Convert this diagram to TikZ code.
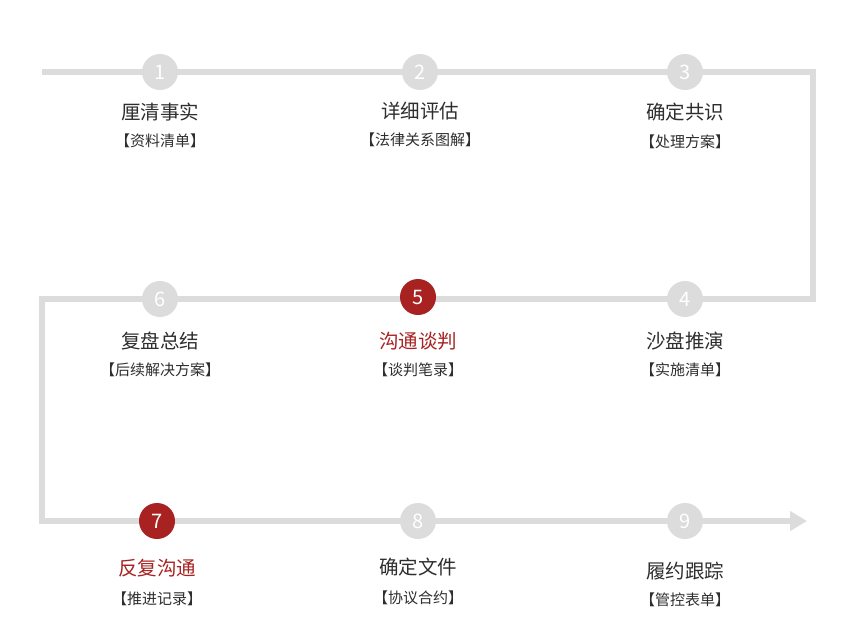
\documentclass[tikz,border=0pt]{standalone}
\usepackage{fontspec}
\setmainfont{Noto Sans CJK SC}
\usetikzlibrary{arrows.meta}
\definecolor{linegray}{HTML}{DCDCDC}
\definecolor{stepred}{HTML}{A82222}
\definecolor{txtgray}{HTML}{2E2E2E}
\begin{document}
\begin{tikzpicture}[x=1pt,y=-1pt,
  dot/.style={circle,fill=linegray,minimum size=36pt,inner sep=0pt,text=white,font=\fontsize{20pt}{20pt}\selectfont},
  reddot/.style={dot,fill=stepred},
  title/.style={text=txtgray,font=\fontsize{19.5pt}{19.5pt}\selectfont,inner sep=0pt},
  redtitle/.style={title,text=stepred},
  sub/.style={text=txtgray,font=\fontsize{15pt}{15pt}\selectfont,inner sep=0pt},
  track/.style={draw=linegray,line width=6.5pt,line join=miter}
]
\fill[white] (0,0) rectangle (857,641);
\useasboundingbox (0,0) rectangle (857,641);
% track
\coordinate (s) at (42,72);
\coordinate (k1) at (813,72);
\coordinate (k2) at (813,299);
\coordinate (k3) at (42,299);
\coordinate (k4) at (42,521);
\coordinate (e) at (807,521);
\draw[track,-{Triangle[length=17pt,width=19pt]}] (s) -- (k1) -- (k2) -- (k3) -- (k4) -- (e);
% circles
\node[dot] (c1) at (160,72) {1};
\node[dot] (c2) at (420,72) {2};
\node[dot] (c3) at (685,72) {3};
\node[dot] (c4) at (685,299) {4};
\node[reddot] (c5) at (418,297) {5};
\node[dot] (c6) at (160,299) {6};
\node[reddot] (c7) at (157,521) {7};
\node[dot] (c8) at (418,521) {8};
\node[dot] (c9) at (685,521) {9};
% row 1
\node[title] (t1) at (160,112) {厘清事实};
\node[sub] (s1) at (160,141) {【资料清单】};
\node[title] (t2) at (420,111) {详细评估};
\node[sub] (s2) at (420,140) {【法律关系图解】};
\node[title] (t3) at (685,112) {确定共识};
\node[sub] (s3) at (685,142) {【处理方案】};
% row 2
\node[title] (t6) at (160,341) {复盘总结};
\node[sub] (s6) at (160,370) {【后续解决方案】};
\node[redtitle] (t5) at (418,341) {沟通谈判};
\node[sub] (s5) at (418,370) {【谈判笔录】};
\node[title] (t4) at (685,341) {沙盘推演};
\node[sub] (s4) at (685,370) {【实施清单】};
% row 3
\node[redtitle] (t7) at (157,568) {反复沟通};
\node[sub] (s7) at (157,599) {【推进记录】};
\node[title] (t8) at (418,567) {确定文件};
\node[sub] (s8) at (418,598) {【协议合约】};
\node[title] (t9) at (685,571) {履约跟踪};
\node[sub] (s9) at (685,600) {【管控表单】};
\end{tikzpicture}
\end{document}
